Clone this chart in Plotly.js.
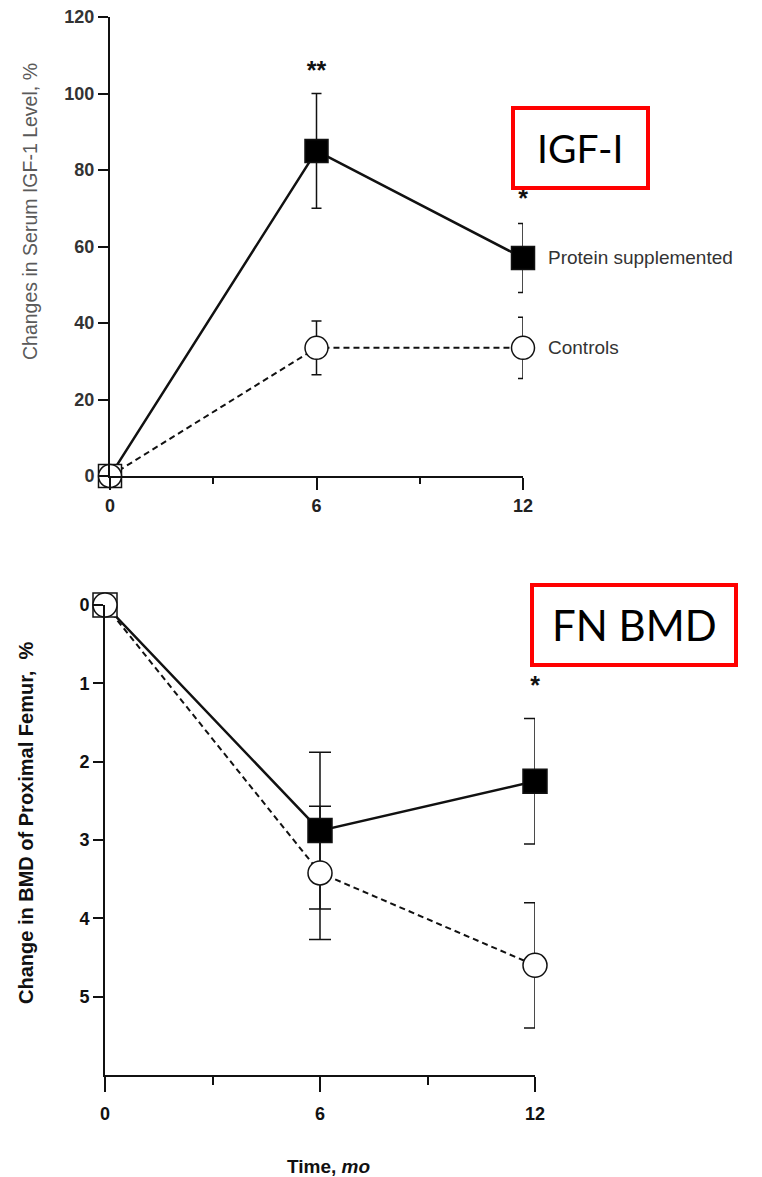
<!DOCTYPE html>
<html>
<head>
<meta charset="utf-8">
<script src="https://cdn.plot.ly/plotly-3.0.1.min.js"></script>
<style>html,body{margin:0;padding:0;background:#fff;}#chart{width:762px;height:1177px;}</style>
</head>
<body>
<div id="chart"></div>
<script>
// ---------- data ----------
const months = [0, 6, 12];

// IGF-I panel (% change)
const igfProtein = [0, 85, 57];
const igfProteinErr = [0, 15, 9];
const igfControls = [0, 33.5, 33.5];
const igfControlsErr = [0, 7, 8];
const igfSigX = [6, 12];
const igfSigY = [105.5, 72];
const igfSigText = ['**', '*'];

// FN BMD panel (% change, axis reversed)
const bmdProtein = [0, 2.88, 2.25];
const bmdProteinErr = [0, 1.0, 0.8];
const bmdControls = [0, 3.42, 4.6];
const bmdControlsErr = [0, 0.85, 0.8];
const bmdSigX = [12];
const bmdSigY = [1.05];
const bmdSigText = ['*'];

const seriesNames = ['Protein supplemented', 'Controls'];
const igfTicks = [0, 20, 40, 60, 80, 100, 120];
const bmdTicks = [0, 1, 2, 3, 4, 5];
const timeTicks = [0, 6, 12];
const panelLabels = ['IGF-I', 'FN BMD'];
const yTitles = ['Changes in Serum IGF-1 Level, %', 'Change in BMD of Proximal Femur,  %'];
const xTitle = 'Time, <i>mo</i>';

// ---------- layout helpers ----------
const W = 762, H = 1177;
const px = v => v / W;
const py = v => 1 - v / H;

const squareFill = ['white', 'black', 'black'];

function lineTrace(x, y, err, xa, ya, dash, lw, capw) {
  return {
    x: x, y: y, xaxis: xa, yaxis: ya, type: 'scatter', mode: 'lines',
    line: {color: '#111', width: lw, dash: dash},
    error_y: {type: 'data', array: err, visible: true, color: '#111', thickness: 1.5, width: capw},
    cliponaxis: false, showlegend: false, hoverinfo: 'skip'
  };
}
function markerTrace(x, y, xa, ya, symbol, fill, size, name) {
  return {
    x: x, y: y, xaxis: xa, yaxis: ya, type: 'scatter', mode: 'markers', name: name,
    marker: {symbol: symbol, size: size, color: fill, line: {color: '#111', width: 1.5}},
    cliponaxis: false, showlegend: false
  };
}
function sigTrace(x, y, t, xa, ya) {
  return {
    x: x, y: y, text: t, xaxis: xa, yaxis: ya, type: 'scatter', mode: 'text',
    textfont: {family: 'Liberation Sans, Arial', size: 25, color: '#111', weight: 'bold'},
    textposition: 'middle center', cliponaxis: false, showlegend: false, hoverinfo: 'skip'
  };
}

const data = [
  lineTrace(months, igfProtein, igfProteinErr, 'x', 'y', 'solid', 2.5, 5),
  lineTrace(months, igfControls, igfControlsErr, 'x', 'y', '6px,4px', 2, 5),
  markerTrace(months, igfProtein, 'x', 'y', 'square', squareFill, 23, seriesNames[0]),
  markerTrace(months, igfControls, 'x', 'y', 'circle', 'white', 23, seriesNames[1]),
  sigTrace(igfSigX, igfSigY, igfSigText, 'x', 'y'),

  lineTrace(months, bmdProtein, bmdProteinErr, 'x2', 'y2', 'solid', 2.5, 11),
  lineTrace(months, bmdControls, bmdControlsErr, 'x2', 'y2', '6px,4px', 2, 11),
  markerTrace(months, bmdProtein, 'x2', 'y2', 'square', squareFill, 24, seriesNames[0]),
  markerTrace(months, bmdControls, 'x2', 'y2', 'circle', 'white', 24, seriesNames[1]),
  sigTrace(bmdSigX, bmdSigY, bmdSigText, 'x2', 'y2')
];

const axisCommon = {
  showline: true, linecolor: '#111', linewidth: 2, showgrid: false, zeroline: false,
  ticks: 'outside', tickcolor: '#111', tickwidth: 2, fixedrange: true
};

const layout = {
  width: W, height: H,
  margin: {l: 0, r: 0, t: 0, b: 0},
  paper_bgcolor: '#fff', plot_bgcolor: 'rgba(0,0,0,0)',
  font: {family: 'Liberation Sans, Arial, sans-serif', color: '#222'},
  showlegend: false,
  xaxis: Object.assign({}, axisCommon, {
    domain: [px(110), px(523)], anchor: 'y', range: [0, 12],
    tickvals: timeTicks, ticklen: 12, ticklabelstandoff: 0,
    minor: {tickvals: [3, 9], ticks: 'outside', ticklen: 6, tickcolor: '#111', tickwidth: 2},
    tickfont: {size: 18, color: '#222', weight: 'bold'}
  }),
  yaxis: Object.assign({}, axisCommon, {
    domain: [py(476), py(17)], anchor: 'x', range: [0, 120],
    tickvals: igfTicks, ticklen: 10,
    tickfont: {size: 18, color: '#333', weight: 'bold'}
  }),
  xaxis2: Object.assign({}, axisCommon, {
    domain: [px(105), px(535)], anchor: 'y2', range: [0, 12],
    tickvals: timeTicks, ticklen: 15, ticklabelstandoff: 6,
    minor: {tickvals: [3, 9], ticks: 'outside', ticklen: 8, tickcolor: '#111', tickwidth: 2},
    tickfont: {size: 18, color: '#111', weight: 'bold'}
  }),
  yaxis2: Object.assign({}, axisCommon, {
    domain: [py(1075), py(605)], anchor: 'x2', range: [6, 0],
    tickvals: bmdTicks, ticklen: 10,
    tickfont: {size: 18, color: '#111', weight: 'bold'}
  }),
  shapes: [
    {type: 'rect', xref: 'paper', yref: 'paper', x0: px(513), x1: px(648), y0: py(188), y1: py(108),
     line: {color: '#ff0000', width: 4}, fillcolor: 'rgba(0,0,0,0)'},
    {type: 'rect', xref: 'paper', yref: 'paper', x0: px(532), x1: px(736), y0: py(665), y1: py(585),
     line: {color: '#ff0000', width: 4}, fillcolor: 'rgba(0,0,0,0)'}
  ],
  annotations: [
    {text: panelLabels[0], xref: 'paper', yref: 'paper', x: px(580), y: py(148), xanchor: 'center', yanchor: 'middle',
     showarrow: false, font: {family: 'Lato, Noto Sans, sans-serif', size: 39, color: '#000'}},
    {text: panelLabels[1], xref: 'paper', yref: 'paper', x: px(634), y: py(625), xanchor: 'center', yanchor: 'middle',
     showarrow: false, font: {family: 'Lato, Noto Sans, sans-serif', size: 42, color: '#000'}},
    {text: seriesNames[0], xref: 'x', yref: 'y', x: months[2], y: igfProtein[2], xanchor: 'left', yanchor: 'middle',
     xshift: 23, showarrow: false, font: {size: 19, color: '#333'}},
    {text: seriesNames[1], xref: 'x', yref: 'y', x: months[2], y: igfControls[2], xanchor: 'left', yanchor: 'middle',
     xshift: 23, showarrow: false, font: {size: 19, color: '#333'}},
    {text: yTitles[0], xref: 'paper', yref: 'paper', x: px(30), y: py(212), xanchor: 'center', yanchor: 'middle',
     textangle: -90, showarrow: false, font: {size: 19.5, color: '#5a5a5a'}},
    {text: yTitles[1], xref: 'paper', yref: 'paper', x: px(26), y: py(823), xanchor: 'center', yanchor: 'middle',
     textangle: -90, showarrow: false, font: {size: 20, color: '#111', weight: 'bold'}},
    {text: xTitle, xref: 'paper', yref: 'paper', x: px(328), y: py(1166), xanchor: 'center', yanchor: 'middle',
     showarrow: false, font: {size: 19, color: '#111', weight: 'bold'}}
  ]
};

Plotly.newPlot('chart', data, layout, {staticPlot: true, displayModeBar: false});
</script>
</body>
</html>
